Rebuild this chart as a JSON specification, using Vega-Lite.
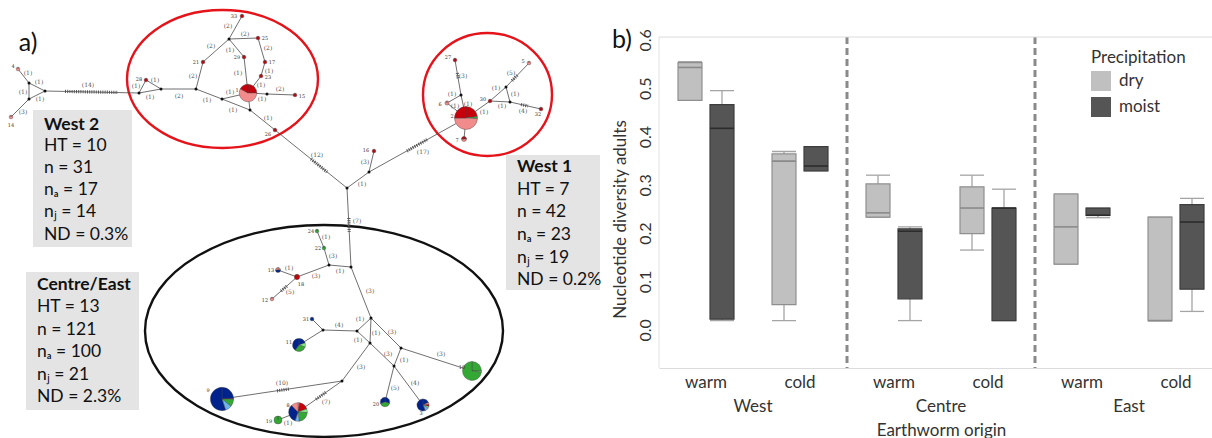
{
 "$schema": "https://vega.github.io/schema/vega-lite/v6.json",
 "padding": 0,
 "background": "white",
 "spacing": 9,
 "config": {
  "view": {"stroke": null},
  "font": "Lato",
  "text": {"font": "Lato"},
  "axis": {"labelFont": "Lato", "titleFont": "Lato"},
  "legend": {"labelFont": "Lato", "titleFont": "Lato"}
 },
 "resolve": {"scale": {"color": "independent"}, "legend": {"color": "independent"}},
 "hconcat": [
  {
   "width": 600,
   "height": 438,
   "encoding": {
    "x": {"field": "x", "type": "quantitative", "scale": {"domain": [0, 600], "nice": false, "zero": false}, "axis": null},
    "y": {"field": "y", "type": "quantitative", "scale": {"domain": [0, 438], "nice": false, "zero": false, "reverse": true}, "axis": null}
   },
   "layer": [
    {
     "data": {"values": [
      {"x": 33, "x2": 132, "y": 110, "y2": 247},
      {"x": 26, "x2": 139, "y": 272, "y2": 410},
      {"x": 506, "x2": 600, "y": 155, "y2": 290}
     ]},
     "mark": {"type": "rect", "color": "#e4e4e4"},
     "encoding": {"x2": {"field": "x2"}, "y2": {"field": "y2"}}
    },
    {
     "data": {"values": [{"x": 222.5, "y": 79}]},
     "mark": {"type": "point", "shape": "M -1 0 A 1 0.7225 0 1 0 1 0 A 1 0.7225 0 1 0 -1 0 Z", "size": 36481, "filled": false, "stroke": "#e5141b", "strokeWidth": 2.4, "opacity": 1}
    },
    {
     "data": {"values": [{"x": 487.5, "y": 94.5}]},
     "mark": {"type": "point", "shape": "M -1 0 A 1 0.953 0 1 0 1 0 A 1 0.953 0 1 0 -1 0 Z", "size": 16641, "filled": false, "stroke": "#e5141b", "strokeWidth": 2.4, "opacity": 1}
    },
    {
     "data": {"values": [{"x": 324, "y": 331}]},
     "mark": {"type": "point", "shape": "M -1 0 A 1 0.592 0 1 0 1 0 A 1 0.592 0 1 0 -1 0 Z", "size": 128164, "filled": false, "stroke": "#111111", "strokeWidth": 2.4, "opacity": 1}
    },
    {
     "data": {"values": [
      {"x": 18, "y": 69, "x2": 29, "y2": 83}, {"x": 11, "y": 117, "x2": 29, "y2": 99}, {"x": 29, "y": 83, "x2": 29, "y2": 99},
      {"x": 29, "y": 83, "x2": 45, "y2": 91}, {"x": 29, "y": 99, "x2": 45, "y2": 91}, {"x": 45, "y": 91, "x2": 139, "y2": 93},
      {"x": 139, "y": 93, "x2": 146, "y2": 80}, {"x": 146, "y": 80, "x2": 161, "y2": 89}, {"x": 139, "y": 93, "x2": 161, "y2": 89},
      {"x": 161, "y": 89, "x2": 196, "y2": 89}, {"x": 196, "y": 89, "x2": 203, "y2": 62}, {"x": 203, "y": 62, "x2": 229, "y2": 39},
      {"x": 229, "y": 39, "x2": 242, "y2": 16}, {"x": 229, "y": 39, "x2": 258, "y2": 38}, {"x": 229, "y": 39, "x2": 244, "y2": 57},
      {"x": 258, "y": 38, "x2": 265, "y2": 62}, {"x": 265, "y": 62, "x2": 261, "y2": 76}, {"x": 261, "y": 76, "x2": 248, "y2": 93},
      {"x": 244, "y": 57, "x2": 248, "y2": 93}, {"x": 196, "y": 89, "x2": 222, "y2": 99}, {"x": 222, "y": 99, "x2": 248, "y2": 93},
      {"x": 222, "y": 99, "x2": 250, "y2": 110}, {"x": 248, "y": 93, "x2": 250, "y2": 110}, {"x": 248, "y": 93, "x2": 267, "y2": 94},
      {"x": 267, "y": 94, "x2": 295, "y2": 95}, {"x": 250, "y": 110, "x2": 275, "y2": 130}, {"x": 275, "y": 130, "x2": 347, "y2": 188},
      {"x": 347, "y": 188, "x2": 369, "y2": 172}, {"x": 369, "y": 172, "x2": 374, "y2": 151}, {"x": 369, "y": 172, "x2": 466, "y2": 118},
      {"x": 466, "y": 118, "x2": 464, "y2": 139}, {"x": 466, "y": 118, "x2": 461, "y2": 95}, {"x": 461, "y": 95, "x2": 455, "y2": 60},
      {"x": 461, "y": 95, "x2": 447, "y2": 103}, {"x": 447, "y": 103, "x2": 466, "y2": 118}, {"x": 466, "y": 118, "x2": 490, "y2": 101},
      {"x": 490, "y": 101, "x2": 506, "y2": 87}, {"x": 490, "y": 101, "x2": 510, "y2": 102}, {"x": 506, "y": 87, "x2": 510, "y2": 102},
      {"x": 506, "y": 87, "x2": 529, "y2": 63}, {"x": 510, "y": 102, "x2": 541, "y2": 109}, {"x": 347, "y": 188, "x2": 351, "y2": 267},
      {"x": 351, "y": 267, "x2": 329, "y2": 265}, {"x": 329, "y": 265, "x2": 324, "y2": 248}, {"x": 324, "y": 248, "x2": 317, "y2": 231},
      {"x": 329, "y": 265, "x2": 297, "y2": 277}, {"x": 297, "y": 277, "x2": 278, "y2": 270}, {"x": 297, "y": 277, "x2": 272, "y2": 299},
      {"x": 351, "y": 267, "x2": 371, "y2": 318}, {"x": 371, "y": 318, "x2": 357, "y2": 331}, {"x": 371, "y": 318, "x2": 370, "y2": 343},
      {"x": 357, "y": 331, "x2": 370, "y2": 343}, {"x": 357, "y": 331, "x2": 323, "y2": 330}, {"x": 323, "y": 330, "x2": 312, "y2": 319},
      {"x": 323, "y": 330, "x2": 299, "y2": 345}, {"x": 371, "y": 318, "x2": 401, "y2": 348}, {"x": 401, "y": 348, "x2": 472, "y2": 371},
      {"x": 370, "y": 343, "x2": 394, "y2": 366}, {"x": 401, "y": 348, "x2": 394, "y2": 366}, {"x": 394, "y": 366, "x2": 385, "y2": 402},
      {"x": 394, "y": 366, "x2": 423, "y2": 405}, {"x": 370, "y": 343, "x2": 342, "y2": 381}, {"x": 342, "y": 381, "x2": 222, "y2": 399},
      {"x": 342, "y": 381, "x2": 298, "y2": 412}, {"x": 298, "y": 412, "x2": 278, "y2": 420}
     ]},
     "mark": {"type": "rule", "color": "#4a4a4a", "strokeWidth": 0.8},
     "encoding": {"x2": {"field": "x2"}, "y2": {"field": "y2"}}
    },
    {
     "data": {"values": [
      {"x": 65, "y": 91.4, "x2": 118, "y2": 92.4}, {"x": 311, "y": 159, "x2": 327, "y2": 172}, {"x": 407, "y": 151, "x2": 428, "y2": 139},
      {"x": 348.9, "y": 218, "x2": 349.2, "y2": 232}, {"x": 277, "y": 390.8, "x2": 289, "y2": 389}, {"x": 316, "y": 399.3, "x2": 326, "y2": 392.3},
      {"x": 281, "y": 291, "x2": 287, "y2": 286}, {"x": 512, "y": 80.7, "x2": 518, "y2": 74.5}, {"x": 521, "y": 104.5, "x2": 528, "y2": 106},
      {"x": 457.3, "y": 73, "x2": 458.2, "y2": 79}
     ]},
     "mark": {"type": "rule", "color": "#555555", "strokeWidth": 3.2, "strokeDash": [1, 1.2]},
     "encoding": {"x2": {"field": "x2"}, "y2": {"field": "y2"}}
    },
    {
     "data": {"values": [
      {"x": 29, "y": 83}, {"x": 29, "y": 99}, {"x": 45, "y": 91}, {"x": 139, "y": 93}, {"x": 161, "y": 89}, {"x": 196, "y": 89},
      {"x": 229, "y": 39}, {"x": 222, "y": 99}, {"x": 250, "y": 110}, {"x": 267, "y": 94}, {"x": 461, "y": 95}, {"x": 506, "y": 87},
      {"x": 510, "y": 102}, {"x": 369, "y": 172}, {"x": 347, "y": 188}, {"x": 351, "y": 267}, {"x": 329, "y": 265}, {"x": 371, "y": 318},
      {"x": 357, "y": 331}, {"x": 370, "y": 343}, {"x": 323, "y": 330}, {"x": 401, "y": 348}, {"x": 394, "y": 366}, {"x": 342, "y": 381}
     ]},
     "mark": {"type": "point", "filled": true, "color": "#111111", "size": 9, "opacity": 1}
    },
    {
     "data": {"values": [
      {"id": "4", "x": 18, "y": 69, "n": 1, "p": "p2", "t0": 0, "t1": 1},
      {"id": "14", "x": 11, "y": 117, "n": 1, "p": "p2", "t0": 0, "t1": 1},
      {"id": "28", "x": 146, "y": 80, "n": 1, "p": "p1", "t0": 0, "t1": 1},
      {"id": "21", "x": 203, "y": 62, "n": 1, "p": "p1", "t0": 0, "t1": 1},
      {"id": "33", "x": 242, "y": 16, "n": 1, "p": "p1", "t0": 0, "t1": 1},
      {"id": "25", "x": 258, "y": 38, "n": 1, "p": "p1", "t0": 0, "t1": 1},
      {"id": "29", "x": 244, "y": 57, "n": 1, "p": "p1", "t0": 0, "t1": 1},
      {"id": "17", "x": 265, "y": 62, "n": 1, "p": "p1", "t0": 0, "t1": 1},
      {"id": "23", "x": 261, "y": 76, "n": 1, "p": "p1", "t0": 0, "t1": 1},
      {"id": "15", "x": 295, "y": 95, "n": 1, "p": "p1", "t0": 0, "t1": 1},
      {"id": "26", "x": 275, "y": 130, "n": 1, "p": "p1", "t0": 0, "t1": 1},
      {"id": "27", "x": 455, "y": 60, "n": 1, "p": "p1", "t0": 0, "t1": 1},
      {"id": "6", "x": 447, "y": 103, "n": 1.3, "p": "p2", "t0": 0, "t1": 1},
      {"id": "30", "x": 490, "y": 101, "n": 1, "p": "p1", "t0": 0, "t1": 1},
      {"id": "5", "x": 529, "y": 63, "n": 1, "p": "p2", "t0": 0, "t1": 1},
      {"id": "32", "x": 541, "y": 109, "n": 1, "p": "p1", "t0": 0, "t1": 1},
      {"id": "16", "x": 374, "y": 151, "n": 1, "p": "p1", "t0": 0, "t1": 1},
      {"id": "24", "x": 317, "y": 231, "n": 1, "p": "p5", "t0": 0, "t1": 1},
      {"id": "22", "x": 324, "y": 248, "n": 1, "p": "p5", "t0": 0, "t1": 1},
      {"id": "18", "x": 297, "y": 277, "n": 2, "p": "p1", "t0": 0, "t1": 1},
      {"id": "12", "x": 272, "y": 299, "n": 1, "p": "p2", "t0": 0, "t1": 1},
      {"id": "31", "x": 312, "y": 319, "n": 1, "p": "p3", "t0": 0, "t1": 1},
      {"id": "19", "x": 278, "y": 420, "n": 4.6, "p": "p5", "t0": 0, "t1": 1},
      {"id": "1", "x": 248, "y": 93, "n": 22, "p": "p1", "t0": 0, "t1": 0.25},
      {"id": "1", "x": 248, "y": 93, "n": 22, "p": "p2", "t0": 0.25, "t1": 0.83},
      {"id": "1", "x": 248, "y": 93, "n": 22, "p": "p1", "t0": 0.83, "t1": 1},
      {"id": "2", "x": 466, "y": 118, "n": 38, "p": "p1", "t0": 0, "t1": 0.23},
      {"id": "2", "x": 466, "y": 118, "n": 38, "p": "p5", "t0": 0.23, "t1": 0.26},
      {"id": "2", "x": 466, "y": 118, "n": 38, "p": "p2", "t0": 0.26, "t1": 0.75},
      {"id": "2", "x": 466, "y": 118, "n": 38, "p": "p1", "t0": 0.75, "t1": 1},
      {"id": "7", "x": 464, "y": 139, "n": 1.8, "p": "p1", "t0": 0, "t1": 0.25},
      {"id": "7", "x": 464, "y": 139, "n": 1.8, "p": "p2", "t0": 0.25, "t1": 0.75},
      {"id": "7", "x": 464, "y": 139, "n": 1.8, "p": "p1", "t0": 0.75, "t1": 1},
      {"id": "13", "x": 278, "y": 270, "n": 1.8, "p": "p2", "t0": 0, "t1": 0.25},
      {"id": "13", "x": 278, "y": 270, "n": 1.8, "p": "p3", "t0": 0.25, "t1": 0.75},
      {"id": "13", "x": 278, "y": 270, "n": 1.8, "p": "p2", "t0": 0.75, "t1": 1},
      {"id": "11", "x": 299, "y": 345, "n": 12, "p": "p3", "t0": 0, "t1": 0.2},
      {"id": "11", "x": 299, "y": 345, "n": 12, "p": "p6", "t0": 0.2, "t1": 0.3},
      {"id": "11", "x": 299, "y": 345, "n": 12, "p": "p5", "t0": 0.3, "t1": 0.6},
      {"id": "11", "x": 299, "y": 345, "n": 12, "p": "p3", "t0": 0.6, "t1": 1},
      {"id": "10", "x": 472, "y": 371, "n": 26, "p": "p5", "t0": 0, "t1": 0.25},
      {"id": "10", "x": 472, "y": 371, "n": 26, "p": "p6", "t0": 0.25, "t1": 0.27},
      {"id": "10", "x": 472, "y": 371, "n": 26, "p": "p5", "t0": 0.27, "t1": 1},
      {"id": "20", "x": 385, "y": 402, "n": 6.5, "p": "p3", "t0": 0, "t1": 0.3},
      {"id": "20", "x": 385, "y": 402, "n": 6.5, "p": "p5", "t0": 0.3, "t1": 0.7},
      {"id": "20", "x": 385, "y": 402, "n": 6.5, "p": "p3", "t0": 0.7, "t1": 1},
      {"id": "3", "x": 423, "y": 405, "n": 10.5, "p": "p3", "t0": 0, "t1": 0.18},
      {"id": "3", "x": 423, "y": 405, "n": 10.5, "p": "p2", "t0": 0.18, "t1": 0.24},
      {"id": "3", "x": 423, "y": 405, "n": 10.5, "p": "p1", "t0": 0.24, "t1": 0.29},
      {"id": "3", "x": 423, "y": 405, "n": 10.5, "p": "p6", "t0": 0.29, "t1": 0.34},
      {"id": "3", "x": 423, "y": 405, "n": 10.5, "p": "p4", "t0": 0.34, "t1": 0.44},
      {"id": "3", "x": 423, "y": 405, "n": 10.5, "p": "p3", "t0": 0.44, "t1": 1},
      {"id": "9", "x": 222, "y": 399, "n": 39, "p": "p3", "t0": 0, "t1": 0.245},
      {"id": "9", "x": 222, "y": 399, "n": 39, "p": "p1", "t0": 0.245, "t1": 0.255},
      {"id": "9", "x": 222, "y": 399, "n": 39, "p": "p5", "t0": 0.255, "t1": 0.36},
      {"id": "9", "x": 222, "y": 399, "n": 39, "p": "p4", "t0": 0.36, "t1": 0.45},
      {"id": "9", "x": 222, "y": 399, "n": 39, "p": "p3", "t0": 0.45, "t1": 1},
      {"id": "8", "x": 298, "y": 412, "n": 25, "p": "p2", "t0": 0, "t1": 0.03},
      {"id": "8", "x": 298, "y": 412, "n": 25, "p": "p1", "t0": 0.03, "t1": 0.2},
      {"id": "8", "x": 298, "y": 412, "n": 25, "p": "p6", "t0": 0.2, "t1": 0.26},
      {"id": "8", "x": 298, "y": 412, "n": 25, "p": "p5", "t0": 0.26, "t1": 0.48},
      {"id": "8", "x": 298, "y": 412, "n": 25, "p": "p4", "t0": 0.48, "t1": 0.55},
      {"id": "8", "x": 298, "y": 412, "n": 25, "p": "p3", "t0": 0.55, "t1": 0.88},
      {"id": "8", "x": 298, "y": 412, "n": 25, "p": "p2", "t0": 0.88, "t1": 1}
     ]},
     "mark": {"type": "arc", "stroke": "#444444", "strokeWidth": 0.4},
     "encoding": {
      "theta": {"field": "t0", "type": "quantitative", "scale": {"domain": [0, 1], "range": [0, 6.283185]}},
      "theta2": {"field": "t1"},
      "radius": {"field": "n", "type": "quantitative", "scale": {"type": "sqrt", "domain": [0, 45], "range": [0, 12.5], "zero": true}},
      "color": {"field": "p", "type": "nominal", "scale": {"domain": ["p1", "p2", "p3", "p4", "p5", "p6"], "range": ["#c8000c", "#f28b8b", "#00228c", "#6cb4f0", "#33a834", "#86f086"]}, "legend": null}
     }
    },
    {
     "data": {"values": [
      {"x": 28, "y": 73, "t": "(1)"}, {"x": 39, "y": 82, "t": "(1)"}, {"x": 23, "y": 92, "t": "(1)"}, {"x": 40, "y": 99, "t": "(1)"}, {"x": 23, "y": 112, "t": "(3)"},
      {"x": 88, "y": 85, "t": "(14)"}, {"x": 136, "y": 86, "t": "(1)"}, {"x": 155, "y": 80, "t": "(1)"}, {"x": 150, "y": 97, "t": "(1)"}, {"x": 179, "y": 96, "t": "(2)"},
      {"x": 193, "y": 76, "t": "(2)"}, {"x": 211, "y": 46, "t": "(2)"}, {"x": 228, "y": 26, "t": "(2)"}, {"x": 245, "y": 34, "t": "(2)"}, {"x": 230, "y": 50, "t": "(1)"},
      {"x": 268, "y": 48, "t": "(2)"}, {"x": 238, "y": 73, "t": "(1)"}, {"x": 269, "y": 71, "t": "(1)"}, {"x": 261, "y": 85, "t": "(1)"}, {"x": 230, "y": 92, "t": "(1)"},
      {"x": 262, "y": 99, "t": "(1)"}, {"x": 280, "y": 89, "t": "(2)"}, {"x": 207, "y": 100, "t": "(1)"}, {"x": 233, "y": 110, "t": "(1)"}, {"x": 268, "y": 118, "t": "(1)"},
      {"x": 317, "y": 155, "t": "(12)"}, {"x": 463, "y": 76, "t": "(3)"}, {"x": 452, "y": 94, "t": "(1)"}, {"x": 455, "y": 106, "t": "(1)"}, {"x": 468, "y": 104, "t": "(1)"},
      {"x": 484, "y": 112, "t": "(1)"}, {"x": 496, "y": 88, "t": "(1)"}, {"x": 515, "y": 94, "t": "(1)"}, {"x": 502, "y": 106, "t": "(1)"}, {"x": 511, "y": 73, "t": "(5)"},
      {"x": 523, "y": 111, "t": "(4)"}, {"x": 423, "y": 152, "t": "(17)"}, {"x": 365, "y": 162, "t": "(3)"}, {"x": 362, "y": 184, "t": "(1)"}, {"x": 357, "y": 221, "t": "(7)"},
      {"x": 326, "y": 237, "t": "(1)"}, {"x": 333, "y": 256, "t": "(3)"}, {"x": 340, "y": 271, "t": "(1)"}, {"x": 316, "y": 276, "t": "(3)"}, {"x": 289, "y": 268, "t": "(1)"},
      {"x": 290, "y": 292, "t": "(5)"}, {"x": 370, "y": 291, "t": "(3)"}, {"x": 360, "y": 319, "t": "(1)"}, {"x": 376, "y": 333, "t": "(1)"}, {"x": 358, "y": 340, "t": "(1)"},
      {"x": 339, "y": 325, "t": "(4)"}, {"x": 392, "y": 332, "t": "(3)"}, {"x": 388, "y": 354, "t": "(3)"}, {"x": 404, "y": 360, "t": "(1)"}, {"x": 441, "y": 354, "t": "(3)"},
      {"x": 361, "y": 367, "t": "(3)"}, {"x": 395, "y": 388, "t": "(5)"}, {"x": 415, "y": 383, "t": "(4)"}, {"x": 282, "y": 383, "t": "(10)"}, {"x": 326, "y": 402, "t": "(7)"},
      {"x": 288, "y": 423, "t": "(1)"}
     ]},
     "mark": {"type": "text", "fontSize": 6, "color": "#555555", "font": "DejaVu Serif"},
     "encoding": {"text": {"field": "t"}}
    },
    {
     "data": {"values": [
      {"x": 13, "y": 66, "t": "4"}, {"x": 11, "y": 125, "t": "14"}, {"x": 139, "y": 79, "t": "28"}, {"x": 234, "y": 16, "t": "33"}, {"x": 265, "y": 38, "t": "25"},
      {"x": 237, "y": 57, "t": "29"}, {"x": 196, "y": 62, "t": "21"}, {"x": 272, "y": 62, "t": "17"}, {"x": 268, "y": 77, "t": "23"}, {"x": 237, "y": 90, "t": "1"},
      {"x": 302, "y": 96, "t": "15"}, {"x": 268, "y": 134, "t": "26"}, {"x": 448, "y": 57, "t": "27"}, {"x": 523, "y": 61, "t": "5"}, {"x": 440, "y": 104, "t": "6"},
      {"x": 452, "y": 116, "t": "2"}, {"x": 483, "y": 99, "t": "30"}, {"x": 538, "y": 114, "t": "32"}, {"x": 457, "y": 140, "t": "7"}, {"x": 366, "y": 150, "t": "16"},
      {"x": 311, "y": 231, "t": "24"}, {"x": 318, "y": 248, "t": "22"}, {"x": 271, "y": 270, "t": "13"}, {"x": 301, "y": 284, "t": "18"}, {"x": 265, "y": 300, "t": "12"},
      {"x": 306, "y": 319, "t": "31"}, {"x": 289, "y": 342, "t": "11"}, {"x": 462, "y": 367, "t": "10"}, {"x": 208, "y": 390, "t": "9"}, {"x": 288, "y": 405, "t": "8"},
      {"x": 269, "y": 421, "t": "19"}, {"x": 376, "y": 404, "t": "20"}, {"x": 421, "y": 413, "t": "3"}
     ]},
     "mark": {"type": "text", "fontSize": 5, "color": "#333333", "font": "DejaVu Serif"},
     "encoding": {"text": {"field": "t"}}
    },
    {
     "data": {"values": [
      {"x": 44, "y": 125, "t": "West 2"}, {"x": 37, "y": 285, "t": "Centre/East"}, {"x": 517, "y": 167, "t": "West 1"}
     ]},
     "mark": {"type": "text", "align": "left", "baseline": "middle", "fontSize": 17.5, "fontWeight": "bold", "color": "#111111"},
     "encoding": {"text": {"field": "t"}}
    },
    {
     "data": {"values": [
      {"x": 44, "y": 146, "t": "HT = 10"}, {"x": 44, "y": 168, "t": "n = 31"}, {"x": 44, "y": 190, "t": "nₐ = 17"}, {"x": 44, "y": 212, "t": "nⱼ = 14"}, {"x": 44, "y": 235, "t": "ND = 0.3%"},
      {"x": 37, "y": 307, "t": "HT = 13"}, {"x": 37, "y": 330, "t": "n = 121"}, {"x": 37, "y": 352, "t": "nₐ = 100"}, {"x": 37, "y": 375, "t": "nⱼ = 21"}, {"x": 37, "y": 397, "t": "ND = 2.3%"},
      {"x": 517, "y": 190, "t": "HT = 7"}, {"x": 517, "y": 212, "t": "n = 42"}, {"x": 517, "y": 235, "t": "nₐ = 23"}, {"x": 517, "y": 258, "t": "nⱼ = 19"}, {"x": 517, "y": 280, "t": "ND = 0.2%"}
     ]},
     "mark": {"type": "text", "align": "left", "baseline": "middle", "fontSize": 17.5, "color": "#111111"},
     "encoding": {"text": {"field": "t"}}
    },
    {
     "data": {"values": [{"x": 28, "y": 43, "t": "a)"}]},
     "mark": {"type": "text", "align": "center", "baseline": "middle", "fontSize": 25, "color": "#111111"},
     "encoding": {"text": {"field": "t"}}
    }
   ]
  },
  {
   "width": 564,
   "height": 438,
   "layer": [
    {
     "data": {"name": "boxes", "values": [
      {"grp": "West warm", "prec": "dry", "lo": 0.475, "q1": 0.475, "med": 0.543, "q3": 0.553, "hi": 0.555},
      {"grp": "West warm", "prec": "moist", "lo": 0.019, "q1": 0.022, "med": 0.417, "q3": 0.466, "hi": 0.495},
      {"grp": "West cold", "prec": "dry", "lo": 0.019, "q1": 0.052, "med": 0.349, "q3": 0.364, "hi": 0.369},
      {"grp": "West cold", "prec": "moist", "lo": 0.329, "q1": 0.329, "med": 0.339, "q3": 0.379, "hi": 0.379},
      {"grp": "Centre warm", "prec": "dry", "lo": 0.233, "q1": 0.233, "med": 0.242, "q3": 0.302, "hi": 0.320},
      {"grp": "Centre warm", "prec": "moist", "lo": 0.019, "q1": 0.064, "med": 0.204, "q3": 0.209, "hi": 0.213},
      {"grp": "Centre cold", "prec": "dry", "lo": 0.165, "q1": 0.199, "med": 0.252, "q3": 0.296, "hi": 0.320},
      {"grp": "Centre cold", "prec": "moist", "lo": 0.019, "q1": 0.019, "med": 0.252, "q3": 0.252, "hi": 0.291},
      {"grp": "East warm", "prec": "dry", "lo": 0.136, "q1": 0.136, "med": 0.213, "q3": 0.281, "hi": 0.281},
      {"grp": "East warm", "prec": "moist", "lo": 0.232, "q1": 0.237, "med": 0.237, "q3": 0.252, "hi": 0.252},
      {"grp": "East cold", "prec": "dry", "lo": 0.019, "q1": 0.019, "med": 0.019, "q3": 0.233, "hi": 0.233},
      {"grp": "East cold", "prec": "moist", "lo": 0.038, "q1": 0.084, "med": 0.223, "q3": 0.259, "hi": 0.272}
     ]},
     "mark": {"type": "rule", "color": "#a5a5a5", "strokeWidth": 1.3},
     "encoding": {
      "x": {"field": "grp", "type": "nominal",
            "scale": {"type": "band", "domain": ["West warm", "West cold", "Centre warm", "Centre cold", "East warm", "East cold"], "paddingInner": 0, "paddingOuter": 0},
            "axis": {"title": "Earthworm origin", "orient": "bottom", "offset": -70, "domain": true, "domainColor": "#dcdcdc", "domainWidth": 1, "ticks": false, "labelAngle": 0,
                     "labelExpr": "split(datum.label, ' ')[1]", "labelPadding": 6, "labelFontSize": 17, "labelColor": "#333333",
                     "titleFontSize": 17, "titleFontWeight": "normal", "titleColor": "#333333", "titlePadding": 32}},
      "xOffset": {"field": "prec", "type": "nominal", "scale": {"domain": ["dry", "moist"], "paddingInner": 0.25, "paddingOuter": 0.594}},
      "y": {"field": "lo", "type": "quantitative",
            "scale": {"domain": [-0.224, 0.6826], "nice": false, "zero": false},
            "axis": {"title": "Nucleotide diversity adults", "values": [0, 0.1, 0.2, 0.3, 0.4, 0.5, 0.6], "format": ".1f", "domain": false, "ticks": false, "grid": false,
                     "labelAngle": -90, "labelAlign": "center", "labelBaseline": "bottom", "labelPadding": 6, "labelFontSize": 16, "labelColor": "#333333",
                     "titleFontSize": 17, "titleFontWeight": "normal", "titleColor": "#333333", "titlePadding": 8}},
      "y2": {"field": "hi"}
     }
    },
    {
     "data": {"name": "boxes"},
     "mark": {"type": "tick", "color": "#a5a5a5", "thickness": 1.3, "size": 24, "opacity": 1},
     "encoding": {
      "x": {"field": "grp", "type": "nominal", "title": "Earthworm origin"},
      "xOffset": {"field": "prec", "type": "nominal"},
      "y": {"field": "lo", "type": "quantitative", "title": "Nucleotide diversity adults"}
     }
    },
    {
     "data": {"name": "boxes"},
     "mark": {"type": "tick", "color": "#a5a5a5", "thickness": 1.3, "size": 24, "opacity": 1},
     "encoding": {
      "x": {"field": "grp", "type": "nominal", "title": "Earthworm origin"},
      "xOffset": {"field": "prec", "type": "nominal"},
      "y": {"field": "hi", "type": "quantitative", "title": "Nucleotide diversity adults"}
     }
    },
    {
     "data": {"name": "boxes"},
     "mark": {"type": "bar", "strokeWidth": 1.2, "opacity": 1},
     "encoding": {
      "x": {"field": "grp", "type": "nominal", "title": "Earthworm origin"},
      "xOffset": {"field": "prec", "type": "nominal"},
      "y": {"field": "q1", "type": "quantitative", "title": "Nucleotide diversity adults"},
      "y2": {"field": "q3"},
      "color": {"field": "prec", "type": "nominal", "scale": {"domain": ["dry", "moist"], "range": ["#c0c0c0", "#555555"]},
                "legend": {"title": "Precipitation", "orient": "none", "legendX": 432, "legendY": 50, "padding": 0, "symbolType": "square", "symbolSize": 400,
                           "symbolStrokeWidth": 0, "titleFontSize": 17, "titleFontWeight": "normal", "titleColor": "#333333", "titlePadding": 4,
                           "labelFontSize": 17, "labelColor": "#333333", "labelOffset": 8, "rowPadding": 6,
                           "labelExpr": "datum.label == 'dry' ? ' dry' : datum.label"}},
      "stroke": {"field": "prec", "type": "nominal", "scale": {"domain": ["dry", "moist"], "range": ["#8f8f8f", "#3d3d3d"]}, "legend": null}
     }
    },
    {
     "data": {"name": "boxes"},
     "transform": [{"filter": "datum.prec == 'dry'"}],
     "mark": {"type": "tick", "thickness": 1.6, "size": 24, "opacity": 1, "color": "#8a8a8a"},
     "encoding": {
      "x": {"field": "grp", "type": "nominal", "title": "Earthworm origin"},
      "xOffset": {"field": "prec", "type": "nominal"},
      "y": {"field": "med", "type": "quantitative", "title": "Nucleotide diversity adults"}
     }
    },
    {
     "data": {"name": "boxes"},
     "transform": [{"filter": "datum.prec == 'moist'"}],
     "mark": {"type": "tick", "thickness": 1.6, "size": 24, "opacity": 1, "color": "#2c2c2c"},
     "encoding": {
      "x": {"field": "grp", "type": "nominal", "title": "Earthworm origin"},
      "xOffset": {"field": "prec", "type": "nominal"},
      "y": {"field": "med", "type": "quantitative", "title": "Nucleotide diversity adults"}
     }
    },
    {
     "data": {"values": [{"grp": "Centre warm"}, {"grp": "East warm"}]},
     "mark": {"type": "rule", "color": "#8a8a8a", "strokeWidth": 3, "strokeDash": [7, 4]},
     "encoding": {
      "x": {"field": "grp", "type": "nominal", "bandPosition": 0, "title": "Earthworm origin"},
      "y": {"datum": 0.606, "type": "quantitative"},
      "y2": {"datum": -0.079}
     }
    },
    {
     "data": {"values": [{"grp": "West warm"}]},
     "mark": {"type": "rule", "color": "#e2e2e2", "strokeWidth": 1},
     "encoding": {
      "x": {"field": "grp", "type": "nominal", "bandPosition": 0, "title": "Earthworm origin"},
      "y": {"datum": 0.606, "type": "quantitative"},
      "y2": {"datum": -0.079}
     }
    },
    {
     "data": {"values": [{"grp": "West warm"}]},
     "mark": {"type": "rule", "color": "#dcdcdc", "strokeWidth": 1},
     "encoding": {
      "y": {"datum": 0.606, "type": "quantitative"}
     }
    },
    {
     "data": {"values": [{"reg": "West", "grp": "West warm"}, {"reg": "Centre", "grp": "Centre warm"}, {"reg": "East", "grp": "East warm"}]},
     "mark": {"type": "text", "fontSize": 17, "color": "#333333", "baseline": "middle", "align": "center"},
     "encoding": {
      "x": {"field": "grp", "type": "nominal", "bandPosition": 1, "title": "Earthworm origin"},
      "y": {"datum": -0.16, "type": "quantitative"},
      "text": {"field": "reg"}
     }
    },
    {
     "data": {"values": [{"lab": "b)", "grp": "West warm"}]},
     "mark": {"type": "text", "fontSize": 25, "color": "#111111", "baseline": "middle", "align": "left"},
     "encoding": {
      "x": {"field": "grp", "type": "nominal", "bandPosition": -0.5, "title": "Earthworm origin"},
      "y": {"datum": 0.6, "type": "quantitative"},
      "text": {"field": "lab"}
     }
    }
   ]
  }
 ]
}
